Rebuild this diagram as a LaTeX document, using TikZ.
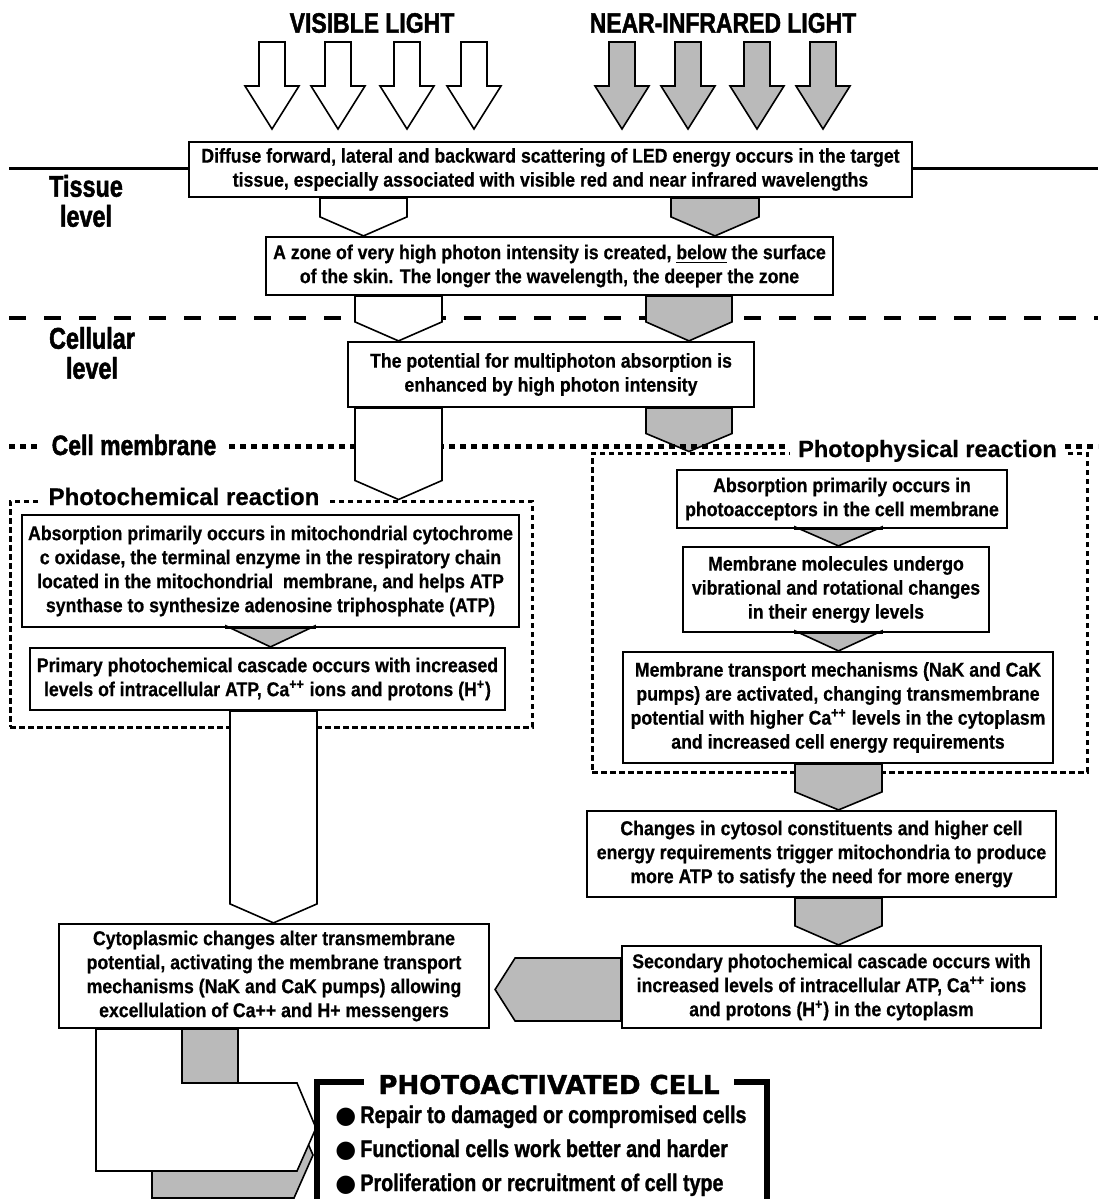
\documentclass[tikz,border=0pt]{standalone}
\usepackage{fontspec}
\setmainfont{Liberation Sans}[FakeStretch=0.885, BoldFeatures={FakeBold=0.6}]
\newfontfamily\headfont{Liberation Sans}[FakeStretch=0.82, BoldFeatures={FakeBold=1.6}]
\newfontfamily\levelfont{Liberation Sans}[FakeStretch=0.78, BoldFeatures={FakeBold=1.6}]
\newfontfamily\framefont{Liberation Sans}[BoldFeatures={FakeBold=0.6}]
\newfontfamily\cellfont{Liberation Sans}[FakeStretch=0.82, BoldFeatures={FakeBold=1.2}]
\newfontfamily\titlefont{DejaVu Sans}[BoldFeatures={FakeBold=1.4}]
\newfontfamily\dotfont{DejaVu Sans}
\usetikzlibrary{calc}

\definecolor{lightgray}{gray}{0.73}

% wide block arrow from the bottom of one box to the top of the next
\newcommand{\flowdown}[6]{%
  \draw[#1] let \p1 = (#2.south), \p2 = (#3.north), \p3 = (#4, 0) in
    (\x3 - #5, \y1) -- (\x3 + #5, \y1) -- (\x3 + #5, \y2 + #6) -- (\x3, \y2)
    -- (\x3 - #5, \y2 + #6) -- cycle;}

\begin{document}
\begin{tikzpicture}[x = 0.5pt, y = -0.5pt, line width = 0.8pt,
                    stage/.style = {draw, line width = 1.1pt, fill = white, align = center, inner sep = 0pt,
                                    font = \bfseries\fontsize{10}{12}\selectfont},
                    frame/.style = {draw, line width = 1.5pt, dash pattern = on 2.75pt off 1.75pt, inner sep = 0pt},
                    hollow/.style = {draw, fill = white, line join = miter},
                    shaded/.style = {draw, fill = lightgray, line join = miter},
                    level/.style = {align = center, font = \levelfont\bfseries\fontsize{15}{15}\selectfont}]
      \useasboundingbox (0, 0) rectangle (1098, 1199);
      \clip (0, 0) rectangle (1098, 1199);

      % level lines
      \draw[line width = 1.5pt] (9, 168) -- (1098, 168);
      \draw[line width = 2pt, dash pattern = on 8.5pt off 9pt] (9, 318) -- (1098, 318);

      \node [font = \headfont\bfseries\fontsize{14}{14}\selectfont] (vis) at (372, 23) {VISIBLE LIGHT};
      \node [font = \headfont\bfseries\fontsize{14}{14}\selectfont] (nir) at (723, 23) {NEAR-INFRARED LIGHT};
      \foreach \c in {272, 338, 407, 474}
        \draw[hollow] (\c - 13, 42) -- (\c + 13, 42) -- (\c + 13, 86) -- (\c + 27, 86) -- (\c, 129)
          -- (\c - 27, 86) -- (\c - 13, 86) -- cycle;
      \foreach \c in {622, 688, 757, 823}
        \draw[shaded] (\c - 13, 42) -- (\c + 13, 42) -- (\c + 13, 86) -- (\c + 27, 86) -- (\c, 129)
          -- (\c - 27, 86) -- (\c - 13, 86) -- cycle;

      \node [level] (tissue) at (86, 201) {Tissue\\level};
      \node [level] (cellular) at (92, 353) {Cellular\\level};

      \node [stage, minimum width = 361.5pt, minimum height = 27.5pt] (b1) at (550.5, 169.5)
        {Diffuse forward, lateral and backward scattering of LED energy occurs in the target\\
         tissue, especially associated with visible red and near infrared wavelengths};
      \node [stage, minimum width = 283.5pt, minimum height = 29pt] (b2) at (549.5, 266)
        {A zone of very high photon intensity is created, \underline{below} the surface\\
         of the skin. The longer the wavelength, the deeper the zone};
      \node [stage, minimum width = 203pt, minimum height = 32.5pt] (b3) at (551, 374.5)
        {The potential for multiphoton absorption is\\enhanced by high photon intensity};

      \node [frame, minimum width = 261pt, minimum height = 113pt] (chembox) at (271, 614) {};
      \node [frame, minimum width = 247.5pt, minimum height = 159.5pt] (physbox) at (839.5, 612.5) {};

      \flowdown{hollow}{b1}{b2}{363.5}{21.75pt}{9.5pt}
      \flowdown{shaded}{b1}{b2}{715}{22pt}{9.5pt}
      \flowdown{hollow}{b2}{b3}{398.5}{21.75pt}{9.5pt}
      \flowdown{shaded}{b2}{b3}{689}{21.5pt}{9.5pt}
      \flowdown{shaded}{b3}{physbox}{689}{21.5pt}{9pt}

      % cell membrane
      \draw[line width = 2.5pt, dash pattern = on 3pt off 2.5pt] (9, 446) -- (1098, 446);
      \node [anchor = base, fill = white, inner xsep = 5.5pt, inner ysep = 2pt,
             font = \headfont\bfseries\fontsize{14}{14}\selectfont] (membrane) at (134, 455) {Cell membrane};
      \flowdown{hollow}{b3}{chembox}{398.5}{21.75pt}{9.5pt}

      \node [anchor = base, fill = white, inner xsep = 4.5pt, inner ysep = 1.5pt,
             font = \framefont\bfseries\fontsize{12}{12}\selectfont] (chemtitle) at (184, 505) {Photochemical reaction};
      \node [anchor = base, fill = white, inner xsep = 4pt, inner ysep = 2pt,
             font = \framefont\bfseries\fontsize{11.75}{12}\selectfont] (phystitle) at (927.5, 457) {Photophysical reaction};

      % photochemical side
      \node [stage, minimum width = 248.5pt, minimum height = 56pt] (l1) at (270.5, 571)
        {Absorption primarily occurs in mitochondrial cytochrome\\
         c oxidase, the terminal enzyme in the respiratory chain\\
         located in the mitochondrial\ \ membrane, and helps ATP\\
         synthase to synthesize adenosine triphosphate (ATP)};
      \node [stage, minimum width = 237.5pt, minimum height = 31pt] (l2) at (267.5, 679)
        {Primary photochemical cascade occurs with increased\\
         levels of intracellular ATP, Ca\textsuperscript{++} ions and protons (H\textsuperscript{+})};
      \node [stage, minimum width = 215pt, minimum height = 52pt] (l3) at (274, 976)
        {Cytoplasmic changes alter transmembrane\\
         potential, activating the membrane transport\\
         mechanisms (NaK and CaK pumps) allowing\\
         excellulation of Ca++ and H+ messengers};
      \flowdown{shaded}{l1}{l2}{270.5}{22.25pt}{10.5pt}
      \flowdown{hollow}{l2}{l3}{273.5}{21.75pt}{9.5pt}

      % photophysical side
      \node [stage, minimum width = 165pt, minimum height = 29pt] (r1) at (842, 499)
        {Absorption primarily occurs in\\photoacceptors in the cell membrane};
      \node [stage, minimum width = 153pt, minimum height = 42.5pt] (r2) at (836, 589.5)
        {Membrane molecules undergo\\vibrational and rotational changes\\in their energy levels};
      \node [stage, minimum width = 215pt, minimum height = 55.5pt] (r3) at (838, 707.5)
        {Membrane transport mechanisms (NaK and CaK\\
         pumps) are activated, changing transmembrane\\
         potential with higher Ca\textsuperscript{++} levels in the cytoplasm\\
         and increased cell energy requirements};
      \node [stage, minimum width = 234.5pt, minimum height = 43pt] (r4) at (821.5, 854)
        {Changes in cytosol constituents and higher cell\\
         energy requirements trigger mitochondria to produce\\
         more ATP to satisfy the need for more energy};
      \node [stage, minimum width = 209.5pt, minimum height = 41pt] (r5) at (831.5, 987)
        {Secondary photochemical cascade occurs with\\
         increased levels of intracellular ATP, Ca\textsuperscript{++} ions\\
         and protons (H\textsuperscript{+}) in the cytoplasm};
      \flowdown{shaded}{r1}{r2}{838.5}{21.75pt}{9.5pt}
      \flowdown{shaded}{r2}{r3}{838.5}{21.75pt}{10pt}
      \flowdown{shaded}{r3}{r4}{838.5}{21.75pt}{9pt}
      \flowdown{shaded}{r4}{r5}{838.5}{21.75pt}{9.5pt}

      \draw[shaded] let \p1 = (r5.west), \p2 = (l3.east), \p3 = (0, 989.5) in
        (\x1, \y3 + 15.75pt) -- (\x2 + 12.5pt, \y3 + 15.75pt) -- (\x2 + 2.5pt, \y3)
        -- (\x2 + 12.5pt, \y3 - 15.75pt) -- (\x1, \y3 - 15.75pt) -- cycle;

      % into the photoactivated cell
      \coordinate (bendA) at (182, 1083);
      \coordinate (bendB) at (238, 1112);
      \coordinate (bendC) at (96, 1171);
      \coordinate (tipA) at (316, 1128);
      \draw[shaded] (l3.south -| bendA) -- (l3.south -| bendB) -- (bendB) -- (294, 1112) -- (313, 1155)
        -- (294, 1198) -- (152, 1198) -- (152, 1100) -- (182, 1100) -- cycle;
      \draw[hollow] (l3.south -| bendC) -- (l3.south -| bendA) -- (bendA) -- (297, 1083) -- (tipA)
        -- (297, 1171) -- (bendC) -- cycle;

      \node [draw, line width = 3pt, fill = white, minimum width = 225pt, minimum height = 79pt] (cellbox) at (542, 1161) {};
      \node [anchor = base, fill = white, inner xsep = 7pt, inner ysep = 2pt,
             font = \titlefont\bfseries\fontsize{13}{13}\selectfont] (celltitle) at (549, 1094) {PHOTOACTIVATED CELL};
      \node [anchor = base west, font = \cellfont\bfseries\fontsize{12}{12}\selectfont] (gain1) at (328, 1123)
        {{\dotfont ●}\,Repair to damaged or compromised cells};
      \node [anchor = base west, font = \cellfont\bfseries\fontsize{12}{12}\selectfont] (gain2) at (328, 1157)
        {{\dotfont ●}\,Functional cells work better and harder};
      \node [anchor = base west, font = \cellfont\bfseries\fontsize{12}{12}\selectfont] (gain3) at (328, 1191)
        {{\dotfont ●}\,Proliferation or recruitment of cell type};
    \end{tikzpicture}
\end{document}
